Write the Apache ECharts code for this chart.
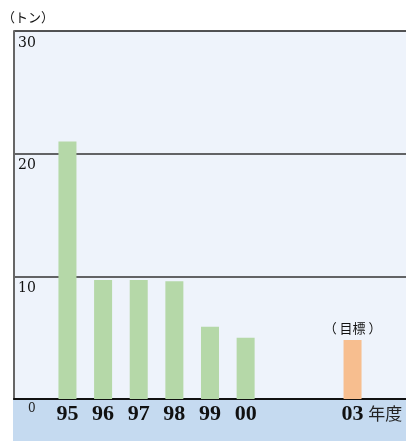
<!DOCTYPE html>
<html>
<head>
<meta charset="utf-8">
<script src="https://cdn.jsdelivr.net/npm/echarts@6/dist/echarts.min.js"></script>
<style>
  html, body { margin: 0; padding: 0; background: #fff; }
  #chart { width: 406px; height: 441px; }
</style>
</head>
<body>
<div id="chart"></div>
<script>
// years (fiscal), 01 and 02 have no data
const years = ['95', '96', '97', '98', '99', '00', '01', '02', '03'];
const tons = [21.0, 9.7, 9.7, 9.6, 5.9, 5.0, null, null, 4.8];
const targetYear = '03';
const yTicks = [0, 10, 20, 30];
const unitLabel = '（トン）';
const yearUnit = '年度';
const targetLabel = '（ 目標 ）';

// the zero label and the unit sit in extra slots at both ends of the axis
const slots = ['0'].concat(years, [yearUnit]);
const slotValues = [null].concat(tons, [null]);

const chart = echarts.init(document.getElementById('chart'));

const option = {
  animation: false,
  grid: {
    left: 14, right: 0, top: 31, bottom: 42,
    show: true, backgroundColor: '#eef3fb', borderWidth: 0
  },
  graphic: [
    {
      type: 'rect', z: 0,
      shape: { x: 13, y: 399, width: 393, height: 42 },
      style: { fill: '#c5daf0' }
    },
    {
      type: 'text', left: 2, top: 11, z: 5,
      style: { text: unitLabel, font: '13px "Noto Sans CJK JP"', fill: '#111' }
    }
  ],
  xAxis: {
    type: 'category',
    data: slots,
    axisLine: { show: true, lineStyle: { color: '#111', width: 2 } },
    axisTick: { show: false },
    axisLabel: {
      interval: 0,
      margin: 4,
      formatter: function (v) {
        if (v === '0') return '{z|0}';
        if (v === yearUnit) return '{u|' + v + '}';
        if (v === '01' || v === '02') return '';
        return '{b|' + v + '}';
      },
      rich: {
        b: { fontFamily: 'Liberation Serif', fontWeight: 'bold', fontSize: 22, color: '#111' },
        z: { fontFamily: 'DejaVu Serif', fontSize: 12, color: '#222', padding: [0, 0, 4, 0] },
        u: { fontFamily: 'Noto Sans CJK JP', fontSize: 17, color: '#222', padding: [2, 6, 0, 0] }
      }
    }
  },
  yAxis: {
    type: 'value',
    min: yTicks[0],
    max: yTicks[yTicks.length - 1],
    interval: 10,
    axisLine: { show: true, lineStyle: { color: '#666', width: 2 } },
    axisTick: { show: false },
    splitLine: { show: true, lineStyle: { color: ['#111', '#333', '#333', '#1a1a1a'], width: 1.6 } },
    axisLabel: {
      inside: true,
      margin: 4,
      verticalAlign: 'top',
      padding: [5, 0, 0, 0],
      fontFamily: 'DejaVu Serif',
      fontSize: 14,
      color: '#111',
      formatter: function (v) { return v === 0 ? '' : String(v); }
    }
  },
  series: [
    {
      type: 'bar',
      barWidth: 18,
      z: 3,
      data: slotValues.map(function (v, i) {
        const isTarget = slots[i] === targetYear;
        return {
          value: v,
          itemStyle: { color: isTarget ? '#f7be8f' : '#b5d8a8' },
          label: isTarget ? {
            show: true, position: 'top', distance: 6,
            formatter: targetLabel,
            fontFamily: 'Noto Sans CJK JP', fontSize: 13, color: '#111'
          } : { show: false }
        };
      })
    }
  ]
};

chart.setOption(option);
</script>
</body>
</html>
